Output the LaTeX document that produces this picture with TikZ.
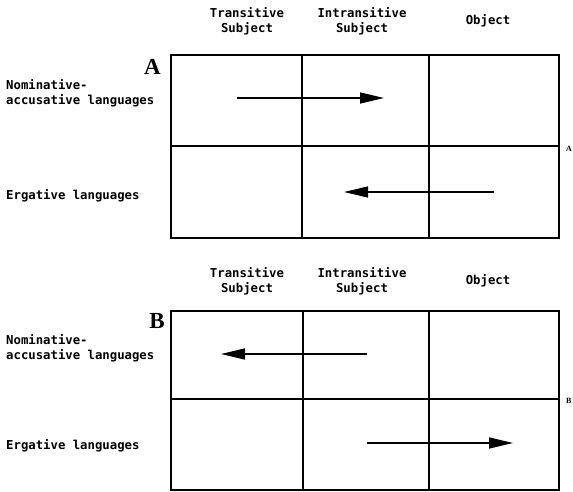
\documentclass[tikz,border=0pt]{standalone}
\usepackage{fontspec}
\setmainfont{Liberation Serif}
\setmonofont{DejaVu Sans Mono}
\usetikzlibrary{arrows.meta}
\tikzset{
  grid/.style={line width=2pt, line cap=rect},
  arr/.style={line width=1.5pt, -{Triangle[length=24pt,width=11pt]}},
  lab/.style={font=\ttfamily\bfseries\fontsize{12.3}{15}\selectfont, inner sep=0pt, align=center},
  rowlab/.style={font=\ttfamily\bfseries\fontsize{12.3}{15}\selectfont, inner sep=0pt, align=left, anchor=west},
  big/.style={font=\bfseries\fontsize{23}{23}\selectfont, inner sep=0pt, anchor=east},
  tiny/.style={font=\bfseries\fontsize{8}{8}\selectfont, inner sep=0pt}
}
\begin{document}
\begin{tikzpicture}[x=1pt,y=-1pt]
\useasboundingbox (0,0) rectangle (573,492);
% ---------- Panel A ----------
\coordinate (A-nw) at (171,55);
\coordinate (A-se) at (559,238);
\draw[grid] (A-nw) rectangle (A-se);
\draw[grid] (171,146) -- (559,146);
\draw[grid] (302,55) -- (302,238);
\draw[grid] (429,55) -- (429,238);
\node[lab] (A-ts) at (247,21) {Transitive\\Subject};
\node[lab] (A-is) at (362,21) {Intransitive\\Subject};
\node[lab] (A-ob) at (488,21) {Object};
\node[big] (A-letter) at (161,67) {A};
\node[rowlab] (A-nom) at (6,93) {Nominative-\\accusative languages};
\node[rowlab] (A-erg) at (6,196) {Ergative languages};
\node[tiny, anchor=west] (A-small) at (566,149) {A};
\coordinate (A1s) at (237,98);
\coordinate (A1e) at (384,98);
\coordinate (A2s) at (494,192);
\coordinate (A2e) at (344,192);
\draw[arr] (A1s) -- (A1e);
\draw[arr] (A2s) -- (A2e);
% ---------- Panel B ----------
\coordinate (B-nw) at (171,311);
\coordinate (B-se) at (559,490);
\draw[grid] (B-nw) rectangle (B-se);
\draw[grid] (171,399) -- (559,399);
\draw[grid] (303,311) -- (303,490);
\draw[grid] (429,311) -- (429,490);
\node[lab] (B-ts) at (247,281) {Transitive\\Subject};
\node[lab] (B-is) at (362,281) {Intransitive\\Subject};
\node[lab] (B-ob) at (488,281) {Object};
\node[big] (B-letter) at (165,321) {B};
\node[rowlab] (B-nom) at (6,348) {Nominative-\\accusative languages};
\node[rowlab] (B-erg) at (6,446) {Ergative languages};
\node[tiny, anchor=west] (B-small) at (566,401) {B};
\coordinate (B1s) at (367,354);
\coordinate (B1e) at (221,354);
\coordinate (B2s) at (367,443);
\coordinate (B2e) at (513,443);
\draw[arr] (B1s) -- (B1e);
\draw[arr] (B2s) -- (B2e);
\end{tikzpicture}
\end{document}
